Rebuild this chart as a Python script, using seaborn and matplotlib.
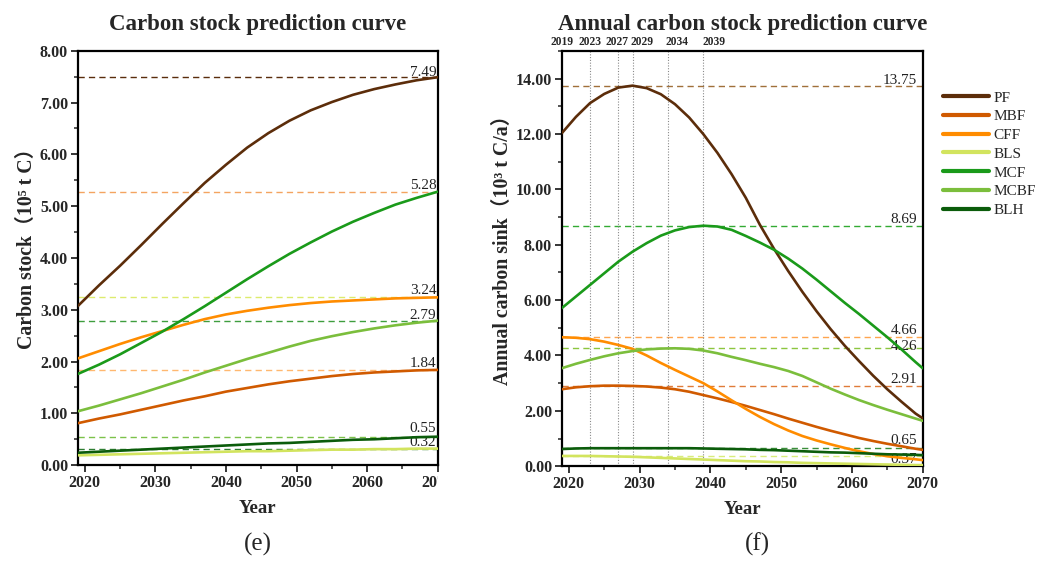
import numpy as np
import pandas as pd
import matplotlib
matplotlib.use("Agg")
import matplotlib.pyplot as plt
import seaborn as sns
from matplotlib.ticker import MultipleLocator, FormatStrFormatter
from matplotlib.transforms import Bbox, TransformedBbox
from matplotlib.lines import Line2D

# ---------------- data ----------------
types = ["PF", "MBF", "CFF", "BLS", "MCF", "MCBF", "BLH"]

# (e) carbon stock, 10^5 t C
years_stock = list(range(2019, 2071, 3))
stock_PF = [3.07, 3.47, 3.85, 4.25, 4.66, 5.06, 5.45, 5.80, 6.13, 6.41, 6.65, 6.85, 7.01, 7.15, 7.26, 7.35, 7.43, 7.49]
stock_MBF = [0.81, 0.90, 0.98, 1.07, 1.16, 1.25, 1.33, 1.42, 1.49, 1.56, 1.62, 1.67, 1.72, 1.76, 1.79, 1.81, 1.83, 1.84]
stock_CFF = [2.06, 2.20, 2.34, 2.47, 2.59, 2.71, 2.82, 2.91, 2.98, 3.04, 3.09, 3.13, 3.16, 3.18, 3.20, 3.22, 3.23, 3.24]
stock_BLS = [0.19, 0.20, 0.21, 0.22, 0.23, 0.24, 0.25, 0.26, 0.27, 0.27, 0.28, 0.29, 0.30, 0.30, 0.31, 0.31, 0.32, 0.32]
stock_MCF = [1.76, 1.94, 2.14, 2.36, 2.58, 2.82, 3.07, 3.33, 3.59, 3.84, 4.08, 4.30, 4.51, 4.70, 4.87, 5.03, 5.16, 5.28]
stock_MCBF = [1.04, 1.15, 1.27, 1.39, 1.52, 1.65, 1.79, 1.92, 2.05, 2.17, 2.29, 2.40, 2.49, 2.57, 2.64, 2.70, 2.75, 2.79]
stock_BLH = [0.24, 0.26, 0.28, 0.30, 0.32, 0.34, 0.36, 0.38, 0.40, 0.42, 0.43, 0.45, 0.47, 0.49, 0.50, 0.52, 0.54, 0.55]

# (f) annual carbon sink, 10^3 t C/a
years_sink = list(range(2019, 2070, 2)) + [2070]
sink_PF = [12.03, 12.62, 13.12, 13.45, 13.68, 13.75, 13.66, 13.44, 13.08, 12.60, 12.00, 11.32, 10.55, 9.70,
           8.72, 7.85, 7.05, 6.30, 5.60, 4.95, 4.35, 3.80, 3.27, 2.78, 2.33, 1.90, 1.73]
sink_MBF = [2.78, 2.85, 2.89, 2.91, 2.91, 2.90, 2.88, 2.84, 2.78, 2.69, 2.57, 2.45, 2.32, 2.18,
            2.03, 1.88, 1.72, 1.57, 1.42, 1.28, 1.15, 1.02, 0.91, 0.81, 0.72, 0.63, 0.59]
sink_CFF = [4.66, 4.64, 4.59, 4.50, 4.38, 4.24, 4.00, 3.73, 3.48, 3.24, 3.00, 2.70, 2.38, 2.07,
            1.78, 1.52, 1.29, 1.09, 0.93, 0.79, 0.66, 0.54, 0.44, 0.36, 0.30, 0.25, 0.22]
sink_BLS = [0.37, 0.37, 0.37, 0.36, 0.35, 0.34, 0.32, 0.30, 0.28, 0.26, 0.24, 0.22, 0.20, 0.18,
            0.17, 0.15, 0.14, 0.12, 0.11, 0.10, 0.09, 0.08, 0.07, 0.06, 0.05, 0.04, 0.04]
sink_MCF = [5.71, 6.13, 6.55, 6.97, 7.39, 7.75, 8.06, 8.33, 8.52, 8.64, 8.69, 8.66, 8.54, 8.32,
            8.08, 7.82, 7.50, 7.14, 6.74, 6.32, 5.90, 5.50, 5.08, 4.66, 4.22, 3.76, 3.54]
sink_MCBF = [3.54, 3.70, 3.84, 3.97, 4.08, 4.16, 4.22, 4.25, 4.26, 4.24, 4.18, 4.08, 3.95, 3.83,
             3.70, 3.58, 3.44, 3.26, 3.03, 2.80, 2.59, 2.39, 2.21, 2.04, 1.88, 1.72, 1.64]
sink_BLH = [0.62, 0.64, 0.65, 0.65, 0.65, 0.65, 0.65, 0.65, 0.65, 0.65, 0.64, 0.63, 0.62, 0.61,
            0.59, 0.58, 0.56, 0.54, 0.52, 0.50, 0.49, 0.47, 0.45, 0.43, 0.42, 0.41, 0.40]

stock_marks = [7.49, 5.28, 3.24, 2.79, 1.84, 0.55, 0.32]
sink_marks = [13.75, 8.69, 4.66, 4.26, 2.91, 0.65, 0.37]
marked_years = [2023, 2027, 2029, 2034, 2039]
top_tick_years = [2019, 2023, 2027, 2029, 2034, 2039]

# ---------------- style ----------------
palette = {"PF": "#5C2D0A", "MBF": "#D05A00", "CFF": "#FF8C00", "BLS": "#D2E45E",
           "MCF": "#1A9A1A", "MCBF": "#7BBE3C", "BLH": "#0B5C0B"}
stock_mark_colors = ["#5A2D0C", "#F4A460", "#DDEB6E", "#3E9E3E", "#FFB870", "#7CC24A", "#2E7D32"]
sink_mark_colors = ["#A0703A", "#33AA33", "#FFA54F", "#8CC63F", "#E07B39", "#3A8E3A", "#D8EC7C"]
stock_label_style = [("bottom", -1), ("bottom", 0), ("bottom", 0), ("bottom", -1), ("bottom", 0), ("bottom", 1), ("bottom", 0)]
sink_label_style = [("bottom", -1), ("bottom", 0), ("bottom", 0), ("center", 1.5), ("bottom", 0), ("bottom", 1), ("center", -2.5)]
top_label_shift = [0, 0, -1, 7, 6.5, 8]  # points, keeps crowded year labels readable

sns.set_theme(style="ticks")
serif = ["Liberation Serif", "DejaVu Serif", "Noto Sans CJK SC"]
plt.rcParams["font.family"] = serif
plt.rcParams["axes.unicode_minus"] = False

fig = plt.figure(figsize=(10.49, 5.61), dpi=100)
axL = fig.add_axes([0.0741, 0.1708, 0.3432, 0.7387])
axR = fig.add_axes([0.5355, 0.1690, 0.3441, 0.7400])


def long_df(years, series):
    rows = []
    for t, vals in zip(types, series):
        for y, v in zip(years, vals):
            rows.append({"Year": y, "value": v, "Type": t})
    return pd.DataFrame(rows)


df_stock = long_df(years_stock, [stock_PF, stock_MBF, stock_CFF, stock_BLS, stock_MCF, stock_MCBF, stock_BLH])
df_sink = long_df(years_sink, [sink_PF, sink_MBF, sink_CFF, sink_BLS, sink_MCF, sink_MCBF, sink_BLH])


def style_axes(ax, ymax, ymaj, ymin_):
    ax.set_xlim(2019, 2070)
    ax.set_ylim(0, ymax)
    ax.xaxis.set_major_locator(MultipleLocator(10))
    ax.xaxis.set_minor_locator(MultipleLocator(5))
    ax.yaxis.set_major_locator(MultipleLocator(ymaj))
    ax.yaxis.set_minor_locator(MultipleLocator(ymin_))
    ax.yaxis.set_major_formatter(FormatStrFormatter("%.2f"))
    ax.tick_params(which="major", direction="out", length=5, width=1.3, labelsize=11.5, pad=2)
    ax.tick_params(which="minor", direction="out", length=3, width=1.1)
    ax.tick_params(top=False, right=False)
    for s in ax.spines.values():
        s.set_linewidth(1.6)
        s.set_color("black")
        s.set_visible(True)
    ax.set_xlabel("Year", fontsize=13.5, fontweight="bold")
    ax.xaxis.set_label_coords(0.5, -0.083)


def mark_lines(ax, vals, cols, styles, dx):
    for v, c, (va, dy) in zip(vals, cols, styles):
        ax.axhline(v, color=c, lw=1.0, ls=(0, (4.5, 3)), zorder=1)
        ax.annotate(f"{v:.2f}", xy=(1, v), xycoords=("axes fraction", "data"),
                    xytext=(dx, dy), textcoords="offset points", ha="right", va=va,
                    fontsize=11, color="#222222")


# ---- (e)
mark_lines(axL, stock_marks, stock_mark_colors, stock_label_style, -1)
sns.lineplot(data=df_stock, x="Year", y="value", hue="Type", hue_order=types, palette=palette,
             lw=1.9, ax=axL, legend=False, zorder=3)
style_axes(axL, 8, 1, 0.5)
axL.set_xticks([2020, 2030, 2040, 2050, 2060, 2070])
axL.set_ylabel("Carbon stock（10⁵ t C）", fontsize=14.3, fontweight="bold")
axL.yaxis.set_label_coords(-0.113, 0.535)
axL.set_title("Carbon stock prediction curve", fontsize=16.5, fontweight="bold", pad=15)

# ---- (f)
mark_lines(axR, sink_marks, sink_mark_colors, sink_label_style, -4)
for yr in marked_years:
    axR.axvline(yr, color="#8A8A8A", lw=0.8, ls=(0, (1, 1.5)), zorder=1)
sns.lineplot(data=df_sink, x="Year", y="value", hue="Type", hue_order=types, palette=palette,
             lw=1.9, ax=axR, legend=False, zorder=3)
style_axes(axR, 15, 2, 1)
axR.set_xticks([2020, 2030, 2040, 2050, 2060, 2070])
axR.set_ylabel("Annual carbon sink（10³ t C/a）", fontsize=14.3, fontweight="bold")
axR.yaxis.set_label_coords(-0.136, 0.533)
axR.set_title("Annual carbon stock prediction curve", fontsize=16.5, fontweight="bold", pad=15)

# year labels above the right panel
for yr, sh in zip(top_tick_years, top_label_shift):
    axR.annotate(str(yr), xy=(yr, 1), xycoords=("data", "axes fraction"),
                 xytext=(sh, 2.5), textcoords="offset points", ha="center", va="bottom",
                 fontsize=8.3, fontweight="bold", annotation_clip=False)

for ax in (axL, axR):
    for lbl in ax.get_xticklabels() + ax.get_yticklabels():
        lbl.set_fontweight("bold")

# legend
handles = [Line2D([], [], color=palette[t], lw=3) for t in types]
fig.legend(handles, types, loc="upper left", bbox_to_anchor=(0.899, 0.838), frameon=False,
           fontsize=11, handlelength=3.0, handletextpad=0.3, labelspacing=0.33,
           borderpad=0, borderaxespad=0)

fig.text(0.246, 0.029, "(e)", ha="center", va="center", fontsize=18)
fig.text(0.7217, 0.029, "(f)", ha="center", va="center", fontsize=18)

# clip the last tick label of (e) at its right spine, as in the source image
fig.canvas.draw()
clip = TransformedBbox(Bbox([[0, 0], [0.0741 + 0.3432, 1]]), fig.transFigure)
for lbl in axL.get_xticklabels():
    lbl.set_clip_on(True)
    lbl.set_clip_box(clip)

fig.savefig("out.png", dpi=100)
